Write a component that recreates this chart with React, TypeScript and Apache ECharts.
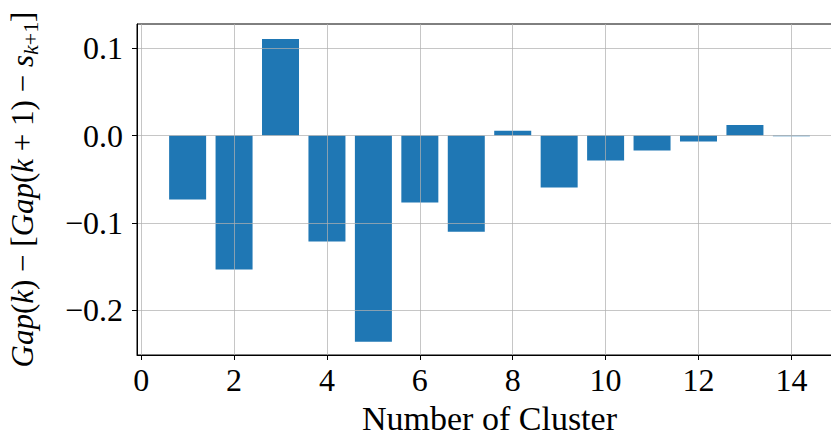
import React, { useEffect, useRef } from "react";
import * as echarts from "echarts";

const clusters = [1, 2, 3, 4, 5, 6, 7, 8, 9, 10, 11, 12, 13, 14];
const gapDiff = [
  -0.0732, -0.1533, 0.1106, -0.1213, -0.236, -0.0767, -0.1102, 0.0054,
  -0.0595, -0.0286, -0.0172, -0.0069, 0.0122, -0.0008,
];
const xTicks = [0, 2, 4, 6, 8, 10, 12, 14];
const yTicks = [-0.2, -0.1, 0.0, 0.1];

const FONT = "'Liberation Serif', 'DejaVu Serif', serif";

export default function App() {
  const ref = useRef<HTMLDivElement>(null);
  useEffect(() => {
    if (!ref.current) return;
    const chart = echarts.init(ref.current, undefined, { renderer: "svg" });
    const gridLine = { show: true, lineStyle: { color: "rgba(176,176,176,0.72)", width: 1 } };
    chart.setOption({
      animation: false,
      backgroundColor: "#ffffff",
      grid: {
        left: 137,
        top: 24,
        width: 705,
        height: 331,
        outerBoundsMode: "none",
        containLabel: false,
        show: true,
        borderColor: "#000",
        borderWidth: 1,
        backgroundColor: "transparent",
      },
      xAxis: {
        type: "value",
        min: -0.09,
        max: 15.09,
        z: 3,
        name: "Number of Cluster",
        nameLocation: "middle",
        nameGap: 46,
        nameTextStyle: { fontFamily: FONT, fontSize: 34, lineHeight: 34, color: "#000" },
        axisLine: { show: true, onZero: false, lineStyle: { color: "#000", width: 1 } },
        axisTick: { show: true, length: 5, customValues: xTicks, lineStyle: { color: "#000", width: 1 } },
        axisLabel: {
          customValues: xTicks,
          fontFamily: FONT,
          fontSize: 32,
          color: "#000",
          margin: 9,
          formatter: (v: number) => String(v),
        },
        splitLine: gridLine,
      },
      yAxis: {
        type: "value",
        min: -0.2513,
        max: 0.1278,
        z: 3,
        name:
          "{i|Gap}{r|(}{i|k}{r|) − [}{i|Gap}{r|(}{i|k}{r| + 1) − }{i|s}{subi|k}{sub|+1}{r|]}",
        nameLocation: "middle",
        nameGap: 96,
        nameTextStyle: {
          color: "#000",
          rich: {
            i: { fontFamily: FONT, fontSize: 31, fontStyle: "italic", color: "#000", lineHeight: 38 },
            r: { fontFamily: FONT, fontSize: 31, color: "#000", lineHeight: 38 },
            subi: { fontFamily: FONT, fontSize: 22, fontStyle: "italic", color: "#000", verticalAlign: "bottom", lineHeight: 38 },
            sub: { fontFamily: FONT, fontSize: 22, color: "#000", verticalAlign: "bottom", lineHeight: 38 },
          },
        },
        axisLine: { show: true, onZero: false, lineStyle: { color: "#000", width: 1 } },
        axisTick: { show: true, length: 5, customValues: yTicks, lineStyle: { color: "#000", width: 1 } },
        axisLabel: {
          customValues: yTicks,
          fontFamily: FONT,
          fontSize: 32,
          color: "#000",
          margin: 14,
          formatter: (v: number) => (v < 0 ? "−" : "") + Math.abs(v).toFixed(1),
        },
        splitLine: gridLine,
      },
      series: [
        {
          type: "bar",
          z: 1,
          barWidth: 37,
          itemStyle: { color: "#1f77b4" },
          data: clusters.map((c, i) => [c, gapDiff[i]]),
        },
      ],
    });
    return () => chart.dispose();
  }, []);
  return (
    <div
      ref={ref}
      style={{ position: "fixed", left: 0, top: 0, width: 831, height: 435 }}
    />
  );
}
